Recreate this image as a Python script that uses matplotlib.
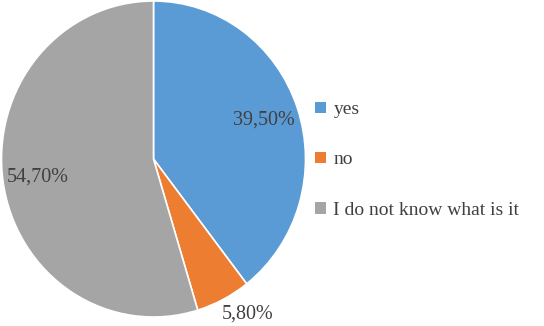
import numpy as np
import matplotlib.pyplot as plt

answers = ["yes", "no", "I do not know what is it"]
shares = [39.5, 5.8, 54.7]
colors = ["#5B9BD5", "#ED7D31", "#A5A5A5"]

plt.rcParams['font.family'] = ['Liberation Serif', 'DejaVu Serif']
text_color = "#404040"

fig = plt.figure(figsize=(5.44, 3.26), dpi=100)
# pie in the source is slightly taller than wide
ax = fig.add_axes([1.5 / 544, 9 / 326, 304 / 544, 316 / 326])

wedges, texts, autotexts = ax.pie(
    shares, colors=colors, startangle=90, counterclock=False,
    autopct=lambda p: ("%.2f%%" % p).replace(".", ","), pctdistance=0.77,
    wedgeprops=dict(edgecolor="white", linewidth=1.2),
    textprops=dict(color=text_color, fontsize=14.5))

# small slice gets its label outside
w = wedges[1]
mid = np.deg2rad((w.theta1 + w.theta2) / 2 + 5)
autotexts[1].set_position((1.16 * np.cos(mid), 1.16 * np.sin(mid)))

ax.set_xlim(-1, 1)
ax.set_ylim(-1, 1)
ax.set_aspect("auto")
ax.axis("off")

leg = fig.legend(wedges, answers, loc="center left",
                 bbox_to_anchor=(315 / 544, 1 - 160 / 326),
                 frameon=False, fontsize=14, handlelength=0.55, handleheight=0.55,
                 handletextpad=0.4, labelspacing=1.7, borderpad=0, borderaxespad=0)
for t in leg.get_texts():
    t.set_color(text_color)
for h in leg.legend_handles:
    h.set_edgecolor("none")

fig.savefig("out.png", dpi=100)
